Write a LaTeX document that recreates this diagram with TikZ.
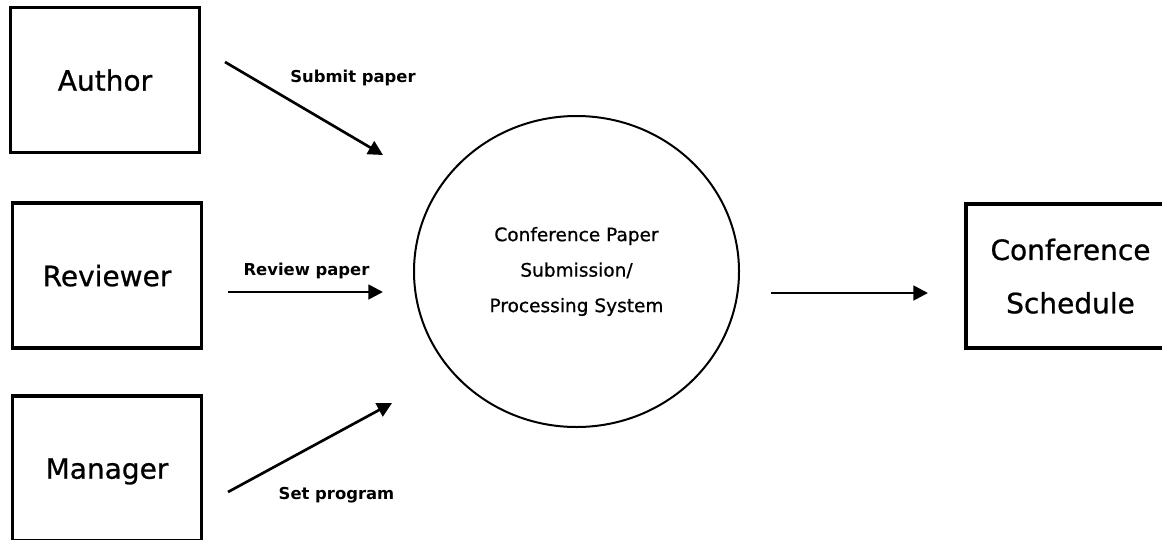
\documentclass[tikz,border=0pt]{standalone}
\usepackage{fontspec}
\setmainfont{DejaVu Sans}
\newfontfamily\medfont[FakeBold=0.8]{DejaVu Sans}
\usetikzlibrary{arrows.meta,shapes.geometric}
\tikzset{
  >={Triangle[length=11pt,width=11pt]},
  entity/.style={rectangle, draw=black, line width=2.4pt, minimum width=141.75pt,
                 minimum height=108.75pt, inner sep=0pt, align=center, text depth=0pt,
                 font=\medfont\fontsize{21}{40}\selectfont},
  process/.style={ellipse, draw=black, line width=1.5pt, minimum width=243.75pt,
                  minimum height=233.25pt, inner sep=0pt, align=center,
                  font=\medfont\fontsize{13.9}{26.6}\selectfont},
  flow/.style={->, draw=black, line width=2pt},
  flowlabel/.style={anchor=base, inner sep=0pt, font=\fontsize{12.3}{14}\selectfont\bfseries},
}

\begin{document}
\begin{tikzpicture}[x=0.75pt, y=-0.75pt]
  \useasboundingbox (0,0) rectangle (1162,539);
  \clip (0,0) rectangle (1162,539);

  \node[entity] (author) at (105,80) {Author};
  \node[entity] (reviewer) at (107,275.5) {Reviewer};
  \node[entity] (manager) at (107,468.5) {Manager};
  \node[process] (system) at (576.5,271.5) {Conference Paper\\Submission/\\Processing System};
  \node[entity, minimum width=156.75pt, minimum height=108pt] (schedule) at (1070.5,276) {Conference\\Schedule};

  % loose arrow ends
  \coordinate (submitA) at (225,62);
  \coordinate (submitB) at (383,155);
  \coordinate (reviewA) at (228,292);
  \coordinate (reviewB) at (383,292);
  \coordinate (setA) at (228,492);
  \coordinate (setB) at (392,403);
  \coordinate (outA) at (771,293);
  \coordinate (outB) at (928,293);

  \draw[flow] (submitA) -- (submitB);
  \draw[flow] (reviewA) -- (reviewB);
  \draw[flow] (setA) -- (setB);
  \draw[flow] (outA) -- (outB);

  \node[flowlabel] (submitlbl) at (353,82) {Submit paper};
  \node[flowlabel] (reviewlbl) at (306.5,275) {Review paper};
  \node[flowlabel] (setlbl) at (336.5,499) {Set program};
\end{tikzpicture}
\end{document}
